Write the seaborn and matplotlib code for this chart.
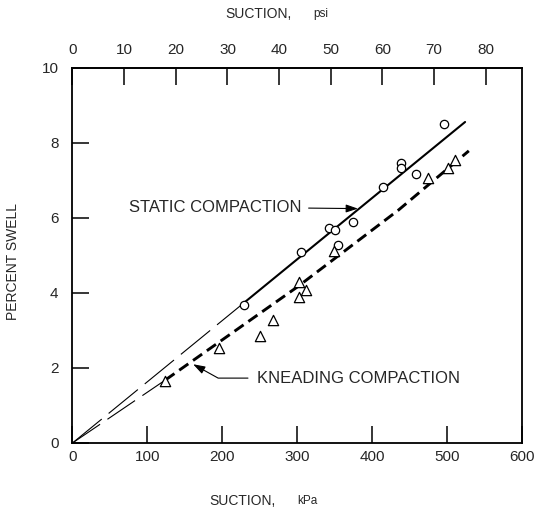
import numpy as np
import pandas as pd
import matplotlib
matplotlib.use("Agg")
import matplotlib.pyplot as plt
import seaborn as sns

# ---------------- data ----------------
static_kpa = [229, 305, 343, 350, 354, 374, 415, 439, 439, 458, 496]
static_swell = [3.69, 5.09, 5.73, 5.67, 5.27, 5.89, 6.82, 7.47, 7.33, 7.17, 8.51]

knead_kpa = [124, 195, 250, 268, 302, 302, 312, 349, 475, 501, 511]
knead_swell = [1.65, 2.52, 2.85, 3.27, 3.88, 4.29, 4.07, 5.11, 7.06, 7.33, 7.54]

# fitted lines: thin extrapolation to origin + measured part
static_ext_x = [0, 229]
static_ext_y = [0, 3.74]
static_fit_x = [229, 524]
static_fit_y = [3.74, 8.56]

knead_ext_x = [0, 124]
knead_ext_y = [0, 1.68]
knead_fit_x = [124, 300, 435, 529]
knead_fit_y = [1.68, 4.16, 6.21, 7.79]

x_ticks = [0, 100, 200, 300, 400, 500, 600]
y_ticks = [0, 2, 4, 6, 8, 10]
psi_ticks = [0, 10, 20, 30, 40, 50, 60, 70, 80]
KPA_PER_PSI = 6.895

# ---------------- styling ----------------
sns.set_style("ticks")
plt.rcParams["font.family"] = ["Liberation Sans", "DejaVu Sans"]

fig = plt.figure(figsize=(5.39, 5.12), dpi=100)
ax = fig.add_axes([0.1345, 0.1348, 0.834, 0.7324])

df_s = pd.DataFrame({"kpa": static_kpa, "swell": static_swell})
df_k = pd.DataFrame({"kpa": knead_kpa, "swell": knead_swell})

# lines
sns.lineplot(x=static_ext_x, y=static_ext_y, ax=ax, color="black", lw=0.8,
             linestyle=(0, (34, 8)), estimator=None, sort=False)
sns.lineplot(x=static_fit_x, y=static_fit_y, ax=ax, color="black", lw=1.5,
             estimator=None, sort=False)
sns.lineplot(x=knead_ext_x, y=knead_ext_y, ax=ax, color="black", lw=0.8,
             linestyle=(0, (30, 8)), estimator=None, sort=False)
sns.lineplot(x=knead_fit_x, y=knead_fit_y, ax=ax, color="black", lw=2.1,
             linestyle=(0, (3.8, 2.0)), estimator=None, sort=False)

# points
sns.scatterplot(data=df_s, x="kpa", y="swell", ax=ax, marker="o", s=36,
                facecolor="white", edgecolor="black", linewidth=0.9, zorder=5)
sns.scatterplot(data=df_k, x="kpa", y="swell", ax=ax, marker="^", s=55,
                facecolor="white", edgecolor="black", linewidth=0.9, zorder=5)

ax.set_xlim(0, 600)
ax.set_ylim(0, 10)
ax.set_xticks(x_ticks)
ax.set_yticks(y_ticks)
ax.set_xlabel("")
ax.set_ylabel("")

for sp in ax.spines.values():
    sp.set_visible(True)
    sp.set_linewidth(1.3)
    sp.set_color("black")

ax.tick_params(axis="x", direction="in", length=12, width=1.3, pad=5,
               labelsize=11, bottom=True, top=False)
ax.tick_params(axis="y", direction="in", length=12, width=1.3, pad=10,
               labelsize=11, left=True, right=False)

# top psi axis
sec = ax.secondary_xaxis("top", functions=(lambda k: k / KPA_PER_PSI,
                                            lambda p: p * KPA_PER_PSI))
sec.set_xticks(psi_ticks)
sec.tick_params(direction="in", length=12, width=1.3, pad=8, labelsize=11)
sec.spines["top"].set_linewidth(1.3)

# axis titles
fig.text(209 / 539, 1 - 501 / 512, "SUCTION,", fontsize=10, ha="left", va="center")
fig.text(297 / 539, 1 - 501 / 512, "kPa", fontsize=8.5, ha="left", va="center")
fig.text(225 / 539, 1 - 14 / 512, "SUCTION,", fontsize=10, ha="left", va="center")
fig.text(313 / 539, 1 - 14 / 512, "psi", fontsize=8.5, ha="left", va="center")
fig.text(13.3 / 539, 1 - 262 / 512, "PERCENT SWELL", fontsize=10, rotation=90,
         ha="center", va="center")

# annotations
ax.annotate("STATIC COMPACTION", xy=(381, 6.25), xytext=(75, 6.29),
            ha="left", va="center", fontsize=12,
            arrowprops=dict(arrowstyle="-|>,head_length=0.6,head_width=0.2",
                            color="black", lw=0.8, shrinkA=3, shrinkB=0))
ax.annotate("KNEADING COMPACTION", xy=(161, 2.1), xytext=(246, 1.73),
            ha="left", va="center", fontsize=12,
            arrowprops=dict(arrowstyle="-|>,head_length=0.6,head_width=0.2",
                            color="black", lw=0.8, shrinkA=4, shrinkB=0,
                            connectionstyle="angle,angleA=0,angleB=-29,rad=0"))

fig.savefig("out.png", dpi=100)
